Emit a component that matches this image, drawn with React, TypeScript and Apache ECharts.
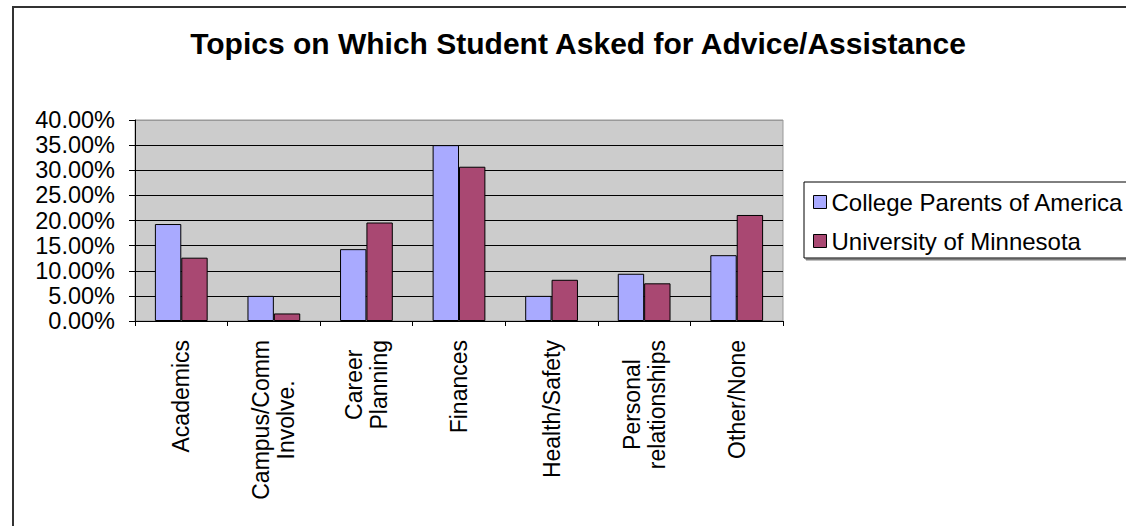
import React, { useEffect, useRef } from "react";
import * as echarts from "echarts";

const categories = [
  "Academics",
  "Campus/Comm\nInvolve.",
  "Career\nPlanning",
  "Finances",
  "Health/Safety",
  "Personal\nrelationships",
  "Other/None",
];
const collegeParents = [19.3, 5.0, 14.3, 35.0, 5.0, 9.4, 13.1];
const universityMN = [12.6, 1.5, 19.6, 30.7, 8.2, 7.5, 21.1];
const seriesNames = ["College Parents of America", "University of Minnesota"];
const yTicks = { min: 0, max: 40, interval: 5 };

const FONT = "'Liberation Sans', Arial, sans-serif";

export default function App() {
  const ref = useRef<HTMLDivElement>(null);
  useEffect(() => {
    if (!ref.current) return;
    const chart = echarts.init(ref.current, undefined, { renderer: "svg" });
    const gridColors: string[] = [];
    for (let v = yTicks.min; v <= yTicks.max; v += yTicks.interval) {
      gridColors.push(v === yTicks.max ? "#999999" : "#000000");
    }
    chart.setOption({
      animation: false,
      backgroundColor: "#ffffff",
      textStyle: { fontFamily: FONT },
      title: {
        text: "Topics on Which Student Asked for Advice/Assistance",
        left: 578,
        top: 28,
        padding: 0,
        textAlign: "center",
        textStyle: { fontFamily: FONT, fontWeight: "bold", fontSize: 30, lineHeight: 30, color: "#000" },
      },
      graphic: [
        {
          type: "rect",
          shape: { x: 13, y: 7, width: 1300, height: 700 },
          style: { fill: "none", stroke: "#333333", lineWidth: 2 },
          silent: true,
          z: -1,
        },
      ],
      legend: {
        orient: "vertical",
        left: 804,
        top: 182,
        padding: [8, 90, 5, 9],
        itemGap: 15,
        itemWidth: 13,
        itemHeight: 13,
        icon: "rect",
        borderColor: "#000",
        borderWidth: 1,
        backgroundColor: "#fff",
        shadowColor: "#808080",
        shadowOffsetX: 2,
        shadowOffsetY: 2,
        shadowBlur: 0,
        itemStyle: { borderColor: "#000", borderWidth: 1 },
        textStyle: { fontFamily: FONT, fontSize: 24, color: "#000", lineHeight: 24 },
        data: seriesNames,
      },
      grid: {
        left: 135,
        right: 343,
        top: 120,
        bottom: 205,
        show: true,
        backgroundColor: "#CCCCCC",
        borderColor: "#999999",
        borderWidth: 1,
      },
      xAxis: {
        type: "category",
        data: categories,
        axisLine: { lineStyle: { color: "#000", width: 1 } },
        axisTick: { show: true, length: 5, lineStyle: { color: "#000" } },
        axisLabel: {
          interval: 0,
          rotate: 90,
          margin: 19,
          color: "#000",
          fontSize: 23,
          fontFamily: FONT,
          formatter: (v: string) =>
            v
              .split("\n")
              .map((s) => `{c|${s}}`)
              .join("\n"),
          rich: {
            c: { align: "center", fontSize: 23, fontFamily: FONT, color: "#000", lineHeight: 25 },
          },
        },
      },
      yAxis: {
        type: "value",
        min: yTicks.min,
        max: yTicks.max,
        interval: yTicks.interval,
        axisLine: { show: true, lineStyle: { color: "#000", width: 1 } },
        axisTick: { show: true, length: 6, lineStyle: { color: "#000" } },
        axisLabel: {
          margin: 20,
          color: "#000",
          fontSize: 23.5,
          fontFamily: FONT,
          formatter: (v: number) => v.toFixed(2) + "%",
        },
        splitLine: { show: true, lineStyle: { color: gridColors, width: 1 } },
      },
      series: [
        {
          name: seriesNames[0],
          type: "bar",
          data: collegeParents,
          barGap: "0%",
          barCategoryGap: "43%",
          itemStyle: { color: "#A9AAFF", borderColor: "#000", borderWidth: 1 },
        },
        {
          name: seriesNames[1],
          type: "bar",
          data: universityMN,
          barGap: "0%",
          barCategoryGap: "43%",
          itemStyle: { color: "#A94872", borderColor: "#000", borderWidth: 1 },
        },
      ],
    });
    return () => chart.dispose();
  }, []);
  return (
    <div
      ref={ref}
      style={{ position: "fixed", left: 0, top: 0, width: 1126, height: 526, background: "#fff" }}
    />
  );
}
